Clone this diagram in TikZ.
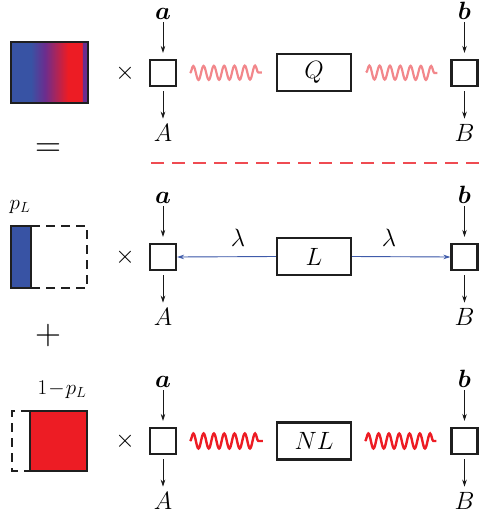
\RequirePackage{fix-cm}
\documentclass[tikz,border=0pt]{standalone}
\usepackage{bm}
\usetikzlibrary{decorations.pathmorphing,arrows.meta}
\definecolor{qblue}{HTML}{3853A4}
\definecolor{qpurple}{HTML}{6B2D8E}
\definecolor{qred}{HTML}{ED1C24}
\definecolor{wavepink}{HTML}{F2878B}
\definecolor{dashred}{HTML}{EF4B52}
\definecolor{lblue}{HTML}{3F5BAA}
\pgfdeclarehorizontalshading{qgrad}{100bp}{color(0bp)=(qblue); color(38bp)=(qblue); color(47bp)=(qpurple); color(62bp)=(qred); color(71bp)=(qred); color(71.6bp)=(qpurple); color(100bp)=(qpurple)}
\begin{document}
\begin{tikzpicture}[x=1pt,y=-1pt,
  sbox/.style={draw=black!88,line width=2.2pt,minimum size=26pt,inner sep=0pt},
  bigbox/.style={draw=black!88,line width=2.2pt,minimum width=74pt,minimum height=37pt,inner sep=0pt,font=\fontsize{25}{29}\selectfont},
  lab/.style={inner sep=0pt,font=\fontsize{25}{29}\selectfont},
  toplab/.style={lab,anchor=base},
  botlab/.style={lab,anchor=base},
  smlab/.style={inner sep=0pt,font=\fontsize{21}{24}\selectfont},
  biglab/.style={inner sep=0pt,font=\fontsize{36}{40}\selectfont},
  arr/.style={-{Stealth[length=7pt,width=4.5pt]},line width=0.8pt,draw=black!90},
  inarr/.style={arr,shorten <=3pt,shorten >=6pt},
  outarr/.style={arr,shorten <=4pt,shorten >=5pt},
  barrow/.style={-{Stealth[length=7pt,width=4.5pt]},line width=0.9pt,draw=lblue,fill=lblue},
  wavelight/.style={decorate,decoration={snake,segment length=10.3pt,amplitude=7pt},line width=2.2pt,draw=wavepink},
  wavedark/.style={decorate,decoration={snake,segment length=10.3pt,amplitude=7.5pt},line width=2.4pt,draw=qred},
  reddash/.style={draw=dashred,line width=2.6pt,dash pattern=on 13pt off 8pt},
  frame/.style={draw=black!88,line width=2.2pt},
  dframe/.style={draw=black!88,line width=2.2pt,dash pattern=on 9pt off 6pt}
]
\useasboundingbox (0,0) rectangle (479,515);

% ---------- left column ----------
\shade[shading=qgrad] (11,42) rectangle (88,103);
\draw[frame] (11,42) rectangle (88,103);
\node[biglab] (eq) at (48,150) {$=$};

\node[smlab] (pl) at (20,207) {$p_L$};
\fill[qblue] (11,226) rectangle (31,288);
\draw[frame] (11,226) rectangle (31,288);
\draw[dframe] (31,226) -- (87,226) -- (87,288) -- (31,288);
\node[biglab] (plus) at (48,335) {$+$};

\node[smlab] (opl) at (62,390) {$1\!-\!p_L$};
\fill[qred] (30,411) rectangle (87,471);
\draw[frame] (30,411) rectangle (87,471);
\draw[dframe] (30,411) -- (12,411) -- (12,471) -- (30,471);

% ---------- times signs ----------
\node[lab] (t1) at (125,73) {$\times$};
\node[lab] (t2) at (125,257) {$\times$};
\node[lab] (t3) at (125,441) {$\times$};

% ---------- row 1 ----------
\node[sbox] (b1l) at (163,73) {};
\node[sbox] (b1r) at (464.5,73) {};
\node[bigbox] (Q) at (314,72.5) {$Q$};
\node[toplab] (a1) at (163,19) {$\bm{a}$};
\node[toplab] (bb1) at (464.5,19) {$\bm{b}$};
\node[botlab] (A1) at (163,141) {$A$};
\node[botlab] (B1) at (464.5,141) {$B$};
\draw[inarr] (a1.south) -- (b1l.north);
\draw[inarr] (bb1.south) -- (b1r.north);
\draw[outarr] (b1l.south) -- (A1.north);
\draw[outarr] (b1r.south) -- (B1.north);
\draw[wavelight] ([xshift=13pt]b1l.east) -- ([xshift=-14pt]Q.west);
\draw[wavelight] ([xshift=14pt]Q.east) -- ([xshift=-13pt]b1r.west);

% ---------- dashed separator ----------
\coordinate (dl) at (151,163);
\coordinate (dr) at (479,163);
\draw[reddash] (dl) -- (dr);

% ---------- row 2 ----------
\node[sbox] (b2l) at (163,257) {};
\node[sbox] (b2r) at (464.5,257) {};
\node[bigbox] (L) at (314,256.5) {$L$};
\node[toplab] (a2) at (163,203) {$\bm{a}$};
\node[toplab] (bb2) at (464.5,203) {$\bm{b}$};
\node[botlab] (A2) at (163,325) {$A$};
\node[botlab] (B2) at (464.5,325) {$B$};
\draw[inarr] (a2.south) -- (b2l.north);
\draw[inarr] (bb2.south) -- (b2r.north);
\draw[outarr] (b2l.south) -- (A2.north);
\draw[outarr] (b2r.south) -- (B2.north);
\draw[barrow] (L.west) -- (b2l.east);
\draw[barrow] (L.east) -- (b2r.west);
\node[lab] (lam1) at (238,238) {$\lambda$};
\node[lab] (lam2) at (389,238) {$\lambda$};

% ---------- row 3 ----------
\node[sbox] (b3l) at (163,441) {};
\node[sbox] (b3r) at (464.5,441) {};
\node[bigbox] (NL) at (314,441) {$NL$};
\node[toplab] (a3) at (163,387) {$\bm{a}$};
\node[toplab] (bb3) at (464.5,387) {$\bm{b}$};
\node[botlab] (A3) at (163,509) {$A$};
\node[botlab] (B3) at (464.5,509) {$B$};
\draw[inarr] (a3.south) -- (b3l.north);
\draw[inarr] (bb3.south) -- (b3r.north);
\draw[outarr] (b3l.south) -- (A3.north);
\draw[outarr] (b3r.south) -- (B3.north);
\draw[wavedark] ([xshift=13pt]b3l.east) -- ([xshift=-13pt]NL.west);
\draw[wavedark] ([xshift=13pt]NL.east) -- ([xshift=-14pt]b3r.west);
\end{tikzpicture}
\end{document}
